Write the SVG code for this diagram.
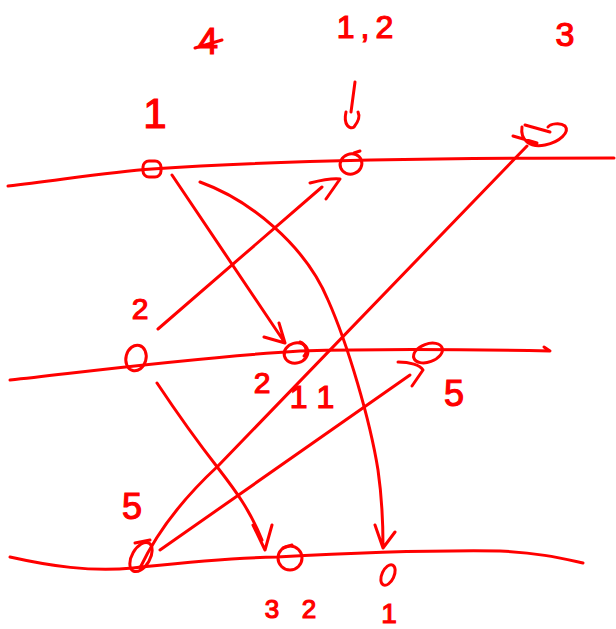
<svg xmlns="http://www.w3.org/2000/svg" width="616" height="629" viewBox="0 0 616 629">
<style>
.s{fill:none;stroke:#ff0000;stroke-width:3;stroke-linecap:round;stroke-linejoin:round}
.t{fill:#ff0000;stroke:#ff0000;stroke-width:1.2;font-family:"Liberation Sans",Arial,sans-serif;text-anchor:middle}
</style>
<rect width="616" height="629" fill="#ffffff"/>
<g id="timelines">
<path class="s" d="M8,186 C60,180 110,172 152,169 C250,162 400,158 614,158"/>
<path class="s" d="M10,380 C100,370 200,357 300,351 C400,348 500,350 550,351 L544,347"/>
<path class="s" d="M10,557 C50,566 90,572 133,568 C170,564 220,558 277,557 C350,553 420,550 500,551 C540,553 560,558 583,563"/>
</g>
<g id="connectors">
<path class="s" d="M172,175 L285,343 M264,337 L285,343 L279,323"/>
<path class="s" d="M200,182 C250,200 305,245 328,300 C348,345 370,420 378,470 C383,505 383,530 383,546 M375,525 L383,548 L395,532"/>
<path class="s" d="M158,329 L322,187 M310,183 C322,180 332,178 340,179 L326,199"/>
<path class="s" d="M157,383 C175,410 200,445 218,468 C235,490 250,510 262,540 M253,525 L265,550 L272,525"/>
<path class="s" d="M140,568 Q165,515 218,466 L527,146"/>
<path class="s" d="M160,550 L410,375 M398,362 C410,362 420,365 423,370 L412,386"/>
<path class="s" d="M355,82 L351,112 M346,112 C343,125 350,130 354,127 C358,122 360,116 358,112"/>
</g>
<g id="node-top-left"><rect class="s" x="143" y="161" width="18" height="16" rx="6"/></g>
<g id="node-top-mid"><ellipse class="s" cx="351" cy="164" rx="11" ry="10" transform="rotate(-20 351 164)"/><path class="s" d="M354,153 L360,151"/></g>
<g id="node-top-right"><path class="s" d="M525,125 L550,132 M513,136 L537,143 M522,127 C520,140 530,148 545,145 C560,142 570,132 565,126 C560,122 550,124 548,127"/></g>
<g id="node-mid-left"><ellipse class="s" cx="136" cy="358" rx="10" ry="13" transform="rotate(15 136 358)"/></g>
<g id="node-mid"><ellipse class="s" cx="296" cy="353" rx="12" ry="10" transform="rotate(-15 296 353)"/><path class="s" d="M300,342 C306,344 308,352 304,356"/></g>
<g id="node-mid-right"><ellipse class="s" cx="428" cy="353" rx="15" ry="9" transform="rotate(-20 428 353)"/></g>
<g id="node-bottom-left"><ellipse class="s" cx="141" cy="557" rx="9" ry="16" transform="rotate(30 141 557)"/><path class="s" d="M135,543 L150,540"/></g>
<g id="node-bottom-mid"><circle class="s" cx="290" cy="558" r="12"/><path class="s" d="M283,548 L292,545"/></g>
<g id="node-bottom-right"><ellipse class="s" cx="388" cy="575" rx="6" ry="11" transform="rotate(25 388 575)"/></g>
<g id="labels">
<text class="t" x="208" y="54" font-size="36">4</text>
<path class="s" d="M195,48 L222,40"/>
<text class="t" x="368" y="38" font-size="32" letter-spacing="6">1,2</text>
<text class="t" x="565" y="46" font-size="34">3</text>
<text class="t" x="155" y="128" font-size="42">1</text>
<text class="t" x="140" y="319" font-size="30">2</text>
<text class="t" x="262" y="393" font-size="30">2</text>
<text class="t" x="312" y="408" font-size="32">1 1</text>
<text class="t" x="454" y="406" font-size="36">5</text>
<text class="t" x="132" y="519" font-size="36">5</text>
<text class="t" font-size="26" y="618"><tspan x="272">3</tspan><tspan x="309">2</tspan></text>
<text class="t" x="389" y="623" font-size="28">1</text>
</g>
</svg>
